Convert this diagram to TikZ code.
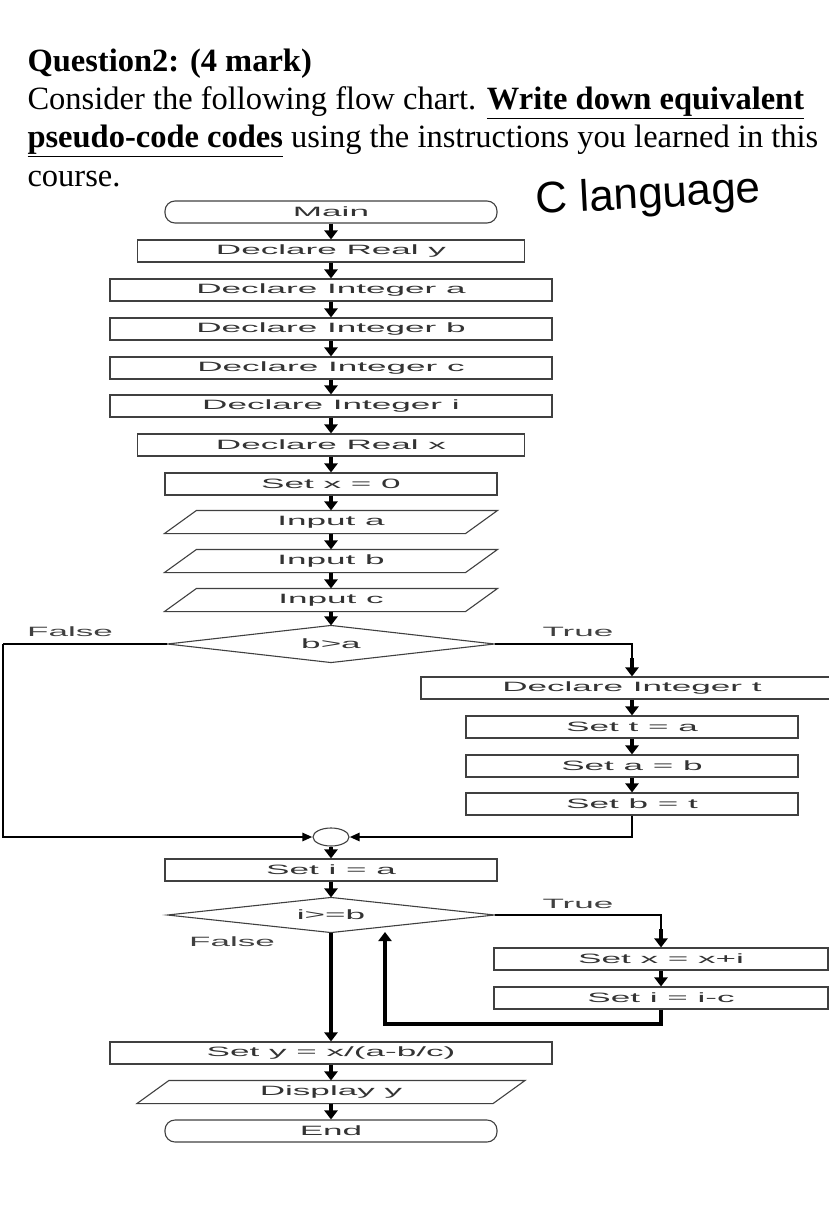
\documentclass[tikz,border=0pt]{standalone}
\usepackage{fontspec}
\setmainfont{Liberation Serif}
\setsansfont{Liberation Sans}
\usetikzlibrary{shapes.geometric,arrows.meta}
\newcommand{\ST}[1]{\scalebox{2.6}[1]{#1}}
\begin{document}
\begin{tikzpicture}[x=1pt,y=-1pt,
  box/.style={draw=black!75,line width=1.1pt,rectangle,minimum height=22pt,inner sep=0pt,font=\sffamily\fontsize{13.5}{13.5}\selectfont\color{black!80}},
  term/.style={box,rounded corners=10pt},
  pin/.style={box,draw=none},
  arr/.style={line width=3.4pt,-{Triangle[length=9pt,width=13pt]}},
  lab/.style={font=\sffamily\fontsize{13.5}{13.5}\selectfont\color{black!75}}]
\useasboundingbox (0,0) rectangle (828,1217);
% header
\node[anchor=base west,font=\fontsize{32.5}{32.5}\selectfont\bfseries] (q) at (24,72) {Question2: (4 mark)};
\node[anchor=base west,font=\fontsize{32.5}{32.5}\selectfont] (l1) at (24,110) {Consider the following flow chart. \underline{\textbf{Write down equivalent}}};
\node[anchor=base west,font=\fontsize{32.5}{32.5}\selectfont] (l2) at (24,148) {\underline{\textbf{pseudo-code codes}} using the instructions you learned in this};
\node[anchor=base west,font=\fontsize{32.5}{32.5}\selectfont] (l3) at (24,186) {course.};
\node[anchor=base west,font=\sffamily\fontsize{44}{44}\selectfont,rotate=3] (cl) at (533,214) {C language};
% chart
\node[term,minimum width=332pt] (main) at (331,212) {\ST{Main}};
\node[box,minimum width=387pt] (dry) at (331,251) {\ST{Declare Real y}};
\node[box,minimum width=442pt] (dia) at (331,290) {\ST{Declare Integer a}};
\node[box,minimum width=442pt] (dib) at (331,329) {\ST{Declare Integer b}};
\node[box,minimum width=442pt] (dic) at (331,368) {\ST{Declare Integer c}};
\node[box,minimum width=442pt] (dii) at (331,406) {\ST{Declare Integer i}};
\node[box,minimum width=387pt] (drx) at (331,445) {\ST{Declare Real x}};
\node[box,minimum width=332pt] (sx0) at (331,484) {\ST{Set x = 0}};
\node[pin,minimum width=332pt] (ia) at (331,522) {\ST{Input a}};
\node[pin,minimum width=332pt] (ib) at (331,561) {\ST{Input b}};
\node[pin,minimum width=332pt] (ic) at (331,600) {\ST{Input c}};
\foreach \n in {ia,ib,ic}{
  \draw[draw=black!75,line width=1.1pt] ([xshift=32pt]\n.north west) -- (\n.north east) -- ([xshift=-32pt]\n.south east) -- (\n.south west) -- cycle;}
\node[pin,minimum width=326pt,minimum height=36pt] (d1) at (331,644) {\ST{b>a}};
\node[pin,minimum width=326pt,minimum height=34pt] (d2) at (331,915) {\ST{i>=b}};
\foreach \n in {d1,d2}{
  \draw[draw=black!75,line width=1.1pt] (\n.west) -- (\n.north) -- (\n.east) -- (\n.south) -- cycle;}
\node[lab] (fl1) at (70,632) {\ST{False}};
\node[lab] (tl1) at (578,632) {\ST{True}};
\node[box,minimum width=422pt] (dit) at (632,688) {\ST{Declare Integer t}};
\node[box,minimum width=332pt] (sta) at (632,727) {\ST{Set t = a}};
\node[box,minimum width=332pt] (sab) at (632,766) {\ST{Set a = b}};
\node[box,minimum width=332pt] (sbt) at (632,804) {\ST{Set b = t}};
\node[draw=black!75,line width=1.1pt,ellipse,minimum width=36pt,minimum height=18pt,inner sep=0pt] (join) at (331,837) {};
\node[box,minimum width=332pt] (sia) at (331,870) {\ST{Set i = a}};
\node[lab] (tl2) at (578,904) {\ST{True}};
\node[lab] (fl2) at (232,942) {\ST{False}};
\node[box,minimum width=334pt] (sxx) at (661,959) {\ST{Set x = x+i}};
\node[box,minimum width=334pt] (sic) at (661,998) {\ST{Set i = i-c}};
\node[box,minimum width=442pt] (sy) at (331,1053) {\ST{Set y = x/(a-b/c)}};
\node[pin,minimum width=387pt] (dy) at (331,1092) {\ST{Display y}};
\draw[draw=black!75,line width=1.1pt] ([xshift=32pt]dy.north west) -- (dy.north east) -- ([xshift=-32pt]dy.south east) -- (dy.south west) -- cycle;
\node[term,minimum width=332pt] (en) at (331,1131) {\ST{End}};
\coordinate (fa) at (3,644);
\coordinate (lb) at (385,1024);
\coordinate (lt) at (385,932);
% connectors
\foreach \a/\b in {main/dry,dry/dia,dia/dib,dib/dic,dic/dii,dii/drx,drx/sx0,sx0/ia,ia/ib,ib/ic,ic/d1,dit/sta,sta/sab,sab/sbt,join/sia,sia/d2,sxx/sic,d2/sy,sy/dy,dy/en}
  \draw[arr] (\a) -- (\b);
\draw[line width=1.8pt] (d1.east) -| ([yshift=18pt]dit.north);
\draw[arr] ([yshift=18pt]dit.north) -- (dit.north);
\draw[line width=1.8pt] (d1.west) -- (fa);
\draw[line width=2.6pt,-{Triangle[length=10pt,width=8pt]}] (fa) |- (join.west);
\draw[line width=2.6pt,-{Triangle[length=10pt,width=8pt]}] (sbt.south) |- (join.east);
\draw[line width=1.8pt] (d2.east) -| ([yshift=18pt]sxx.north);
\draw[arr] ([yshift=18pt]sxx.north) -- (sxx.north);
\draw[arr] (sic.south) |- (lb) -- (lt);
\end{tikzpicture}
\end{document}
